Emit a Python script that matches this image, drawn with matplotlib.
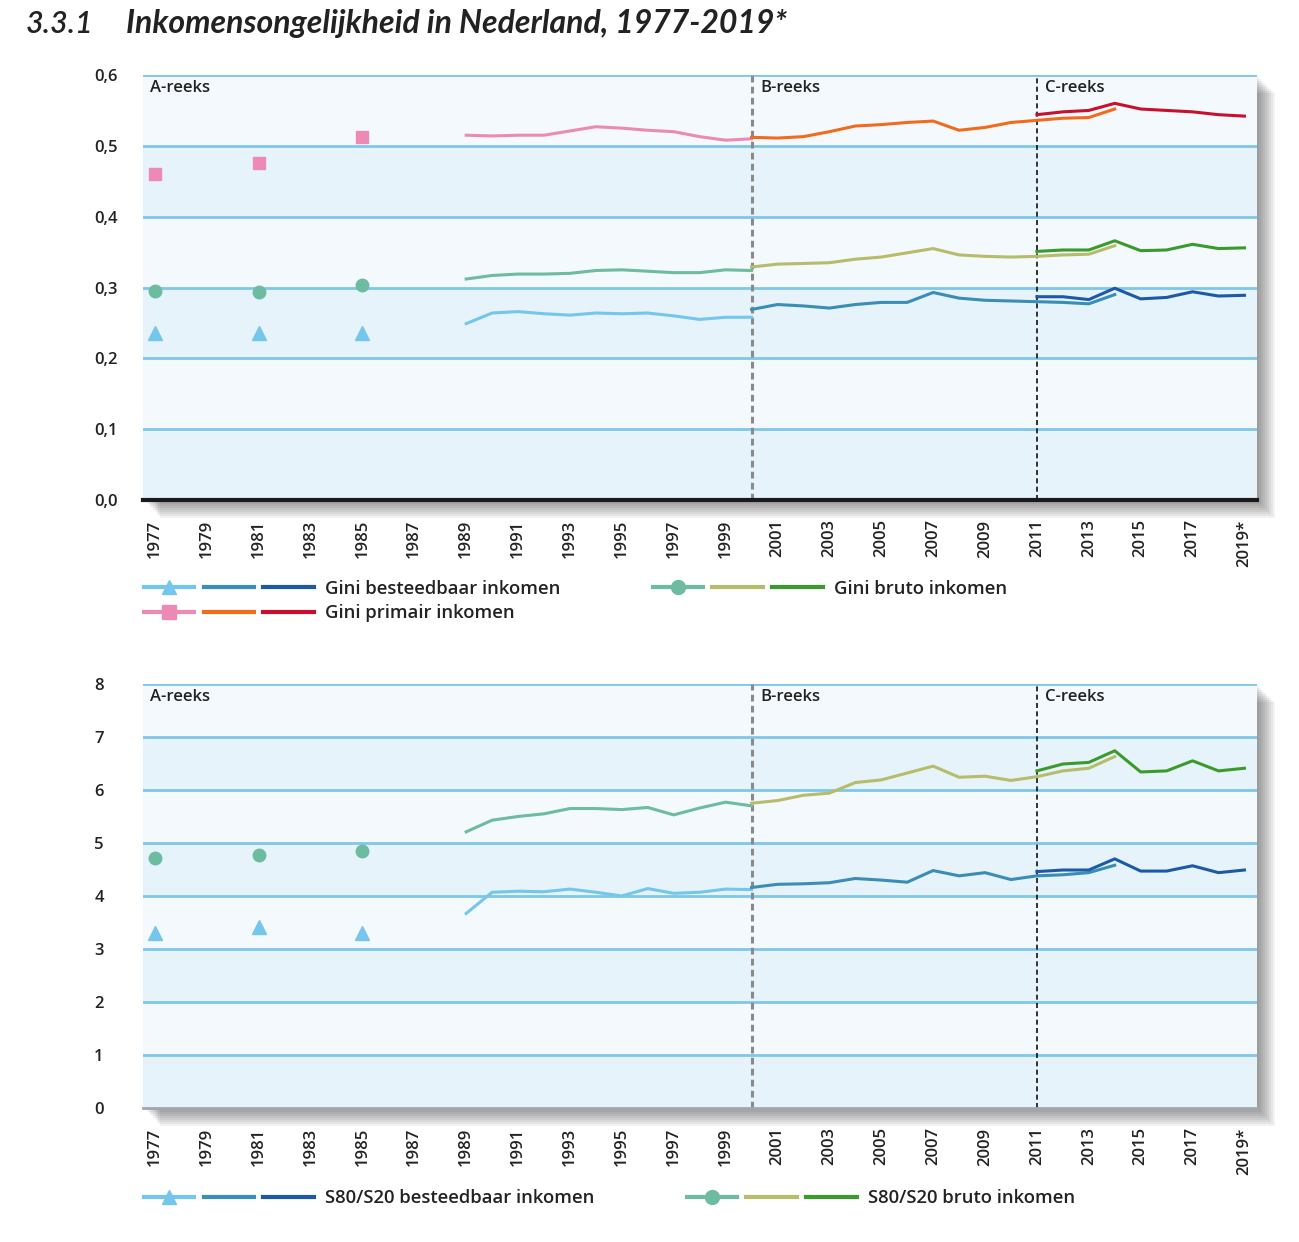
import numpy as np
import matplotlib.pyplot as plt
from matplotlib.lines import Line2D
from matplotlib.patches import Rectangle
from matplotlib.legend_handler import HandlerTuple

# Jaren per reeks
jaren_a_los = [1977, 1981, 1985]
jaren_a = list(range(1989, 2001))
jaren_b = list(range(2000, 2015))
jaren_c = list(range(2011, 2020))

# Gini-coefficienten
gini_best_a_los = [0.236, 0.236, 0.236]
gini_best_a = [0.249, 0.264, 0.266, 0.263, 0.261, 0.264, 0.263, 0.264, 0.260, 0.255, 0.258, 0.258]
gini_best_b = [0.269, 0.276, 0.274, 0.271, 0.276, 0.279, 0.279, 0.293, 0.285, 0.282, 0.281, 0.280, 0.279, 0.277, 0.290]
gini_best_c = [0.287, 0.287, 0.283, 0.299, 0.284, 0.286, 0.294, 0.288, 0.289]

gini_bruto_a_los = [0.295, 0.294, 0.303]
gini_bruto_a = [0.312, 0.317, 0.319, 0.319, 0.320, 0.324, 0.325, 0.323, 0.321, 0.321, 0.325, 0.324]
gini_bruto_b = [0.329, 0.333, 0.334, 0.335, 0.340, 0.343, 0.349, 0.355, 0.346, 0.344, 0.343, 0.344, 0.346, 0.347, 0.359]
gini_bruto_c = [0.351, 0.353, 0.353, 0.366, 0.352, 0.353, 0.361, 0.355, 0.356]

gini_prim_a_los = [0.460, 0.476, 0.512]
gini_prim_a = [0.515, 0.514, 0.515, 0.515, 0.521, 0.527, 0.525, 0.522, 0.520, 0.513, 0.508, 0.510]
gini_prim_b = [0.512, 0.511, 0.513, 0.520, 0.528, 0.530, 0.533, 0.535, 0.522, 0.526, 0.533, 0.536, 0.539, 0.540, 0.552]
gini_prim_c = [0.544, 0.548, 0.550, 0.560, 0.552, 0.550, 0.548, 0.544, 0.542]

# S80/S20-ratio
s80_best_a_los = [3.31, 3.42, 3.31]
s80_best_a = [3.67, 4.07, 4.09, 4.08, 4.13, 4.07, 4.00, 4.14, 4.05, 4.07, 4.13, 4.12]
s80_best_b = [4.16, 4.22, 4.23, 4.25, 4.33, 4.30, 4.26, 4.48, 4.38, 4.44, 4.31, 4.38, 4.40, 4.44, 4.58]
s80_best_c = [4.46, 4.49, 4.49, 4.70, 4.47, 4.47, 4.57, 4.44, 4.49]

s80_bruto_a_los = [4.72, 4.77, 4.84]
s80_bruto_a = [5.21, 5.43, 5.50, 5.55, 5.65, 5.65, 5.63, 5.67, 5.53, 5.66, 5.77, 5.70]
s80_bruto_b = [5.75, 5.80, 5.90, 5.94, 6.14, 6.19, 6.32, 6.45, 6.24, 6.26, 6.18, 6.25, 6.36, 6.41, 6.63]
s80_bruto_c = [6.36, 6.49, 6.52, 6.74, 6.34, 6.36, 6.55, 6.36, 6.41]

tick_jaren = list(range(1977, 2020, 2))
tick_labels = [str(j) for j in tick_jaren[:-1]] + ['2019*']

kleuren = {
    'best': ['#74c6ec', '#3a8db4', '#1c5aa8'],
    'bruto': ['#6dbba1', '#b6bc6a', '#3b9a2c'],
    'prim': ['#ec89b4', '#f06b1c', '#c8102e'],
}

plt.rcParams['font.family'] = ['Open Sans', 'DejaVu Sans']

fig = plt.figure(figsize=(12.99, 12.42), dpi=100)
fig.patch.set_facecolor('white')


def schaduw(pos):
    # zachte slagschaduw rechts en onder het plotvlak
    x0, y0, w, h = pos
    for i in range(9):
        d = 0.0015 * (i + 1)
        fig.patches.append(Rectangle((x0 + d, y0 - d * 1.05), w, h, transform=fig.transFigure,
                                     facecolor='#000000', alpha=0.05, edgecolor='none', zorder=0))


def paneel(pos, ymax, stap, fmt, series, markers, zwarte_as):
    schaduw(pos)
    ax = fig.add_axes(pos, zorder=2)
    ax.set_facecolor('#f4f9fd')
    ax.set_xlim(1976.54, 2019.5)
    ax.set_ylim(0, ymax)
    niveaus = np.arange(0, ymax + stap / 2, stap)
    for i, n in enumerate(niveaus[:-1]):
        if i % 2 == 0:
            ax.axhspan(n, n + stap, color='#e6f3fa', zorder=0, lw=0)
    for n in niveaus[1:]:
        ax.axhline(n, color='#7fc7ea', lw=2.0, zorder=1)
    for s in ['top', 'right', 'left']:
        ax.spines[s].set_visible(False)
    ax.spines['bottom'].set_color('#1a1a1a' if zwarte_as else '#a0a8ad')
    ax.spines['bottom'].set_linewidth(3 if zwarte_as else 2)
    ax.spines['bottom'].set_zorder(5)

    ax.axvline(2000, color='#8a8a8a', ls=(0, (2.2, 1.4)), lw=2.2, zorder=2)
    ax.axvline(2011, color='#111111', ls=(0, (3, 2)), lw=1.2, zorder=2)
    for x, t in [(1976.8, 'A-reeks'), (2000.35, 'B-reeks'), (2011.3, 'C-reeks')]:
        ax.text(x, ymax * 0.988, t, ha='left', va='top', fontsize=12, fontweight='semibold',
                color='#222222', zorder=6)

    for (y_los, ya, yb, yc), (kl, mk) in zip(series, markers):
        ax.plot(jaren_a_los, y_los, ls='none', marker=mk, ms=10 if mk == '^' else 9,
                color=kl[0], zorder=3)
        ax.plot(jaren_a, ya, color=kl[0], lw=2.2, zorder=3)
        ax.plot(jaren_b, yb, color=kl[1], lw=2.2, zorder=3)
        ax.plot(jaren_c, yc, color=kl[2], lw=2.2, zorder=4)

    ax.set_yticks(niveaus)
    ax.set_yticklabels([fmt(n) for n in niveaus], fontsize=12, fontweight='semibold')
    ax.set_xticks(tick_jaren)
    ax.set_xticklabels(tick_labels, rotation=90, fontsize=12, fontweight='semibold')
    ax.tick_params(axis='both', length=0, colors='#222222')
    ax.tick_params(axis='x', pad=14)
    ax.tick_params(axis='y', pad=35)
    for lbl in ax.get_yticklabels():
        lbl.set_horizontalalignment('left')
    return ax


def gini_fmt(v):
    return f'{v:.1f}'.replace('.', ',')


def s80_fmt(v):
    return f'{v:.0f}'


ax1 = paneel([0.110, 0.5974, 0.858, 0.3422], 0.6, 0.1, gini_fmt,
             [(gini_best_a_los, gini_best_a, gini_best_b, gini_best_c),
              (gini_bruto_a_los, gini_bruto_a, gini_bruto_b, gini_bruto_c),
              (gini_prim_a_los, gini_prim_a, gini_prim_b, gini_prim_c)],
             [(kleuren['best'], '^'), (kleuren['bruto'], 'o'), (kleuren['prim'], 's')], True)

ax2 = paneel([0.110, 0.1079, 0.858, 0.3414], 8, 1, s80_fmt,
             [(s80_best_a_los, s80_best_a, s80_best_b, s80_best_c),
              (s80_bruto_a_los, s80_bruto_a, s80_bruto_b, s80_bruto_c)],
             [(kleuren['best'], '^'), (kleuren['bruto'], 'o')], False)


def handle(kl, mk):
    return (Line2D([], [], color=kl[0], lw=3, marker=mk, ms=10),
            Line2D([], [], color=kl[1], lw=3),
            Line2D([], [], color=kl[2], lw=3))


leg_kw = dict(frameon=False, handler_map={tuple: HandlerTuple(ndivide=None, pad=0.5)},
              handlelength=9.2, handletextpad=0.6, columnspacing=5.0, labelspacing=0.35,
              prop={'size': 13.3, 'weight': 'semibold'}, labelcolor='#222222')

fig.legend([handle(kleuren['best'], '^'), handle(kleuren['prim'], 's'), handle(kleuren['bruto'], 'o')],
           ['Gini besteedbaar inkomen', 'Gini primair inkomen', 'Gini bruto inkomen'],
           ncol=2, loc='upper left', bbox_to_anchor=(0.098, 0.5465), **leg_kw)

fig.legend([handle(kleuren['best'], '^'), handle(kleuren['bruto'], 'o')],
           ['S80/S20 besteedbaar inkomen', 'S80/S20 bruto inkomen'],
           ncol=2, loc='upper left', bbox_to_anchor=(0.098, 0.056), **leg_kw)

fig.text(0.020, 0.981, '3.3.1', fontsize=22, style='italic', fontweight='semibold', color='#222222',
         va='center', family=['Lato', 'DejaVu Sans'])
fig.text(0.097, 0.981, 'Inkomensongelijkheid in Nederland, 1977-2019*', fontsize=23,
         style='italic', fontweight='bold', color='#222222', va='center',
         family=['Lato', 'DejaVu Sans'])

fig.savefig('out.png', dpi=100, facecolor='white')
